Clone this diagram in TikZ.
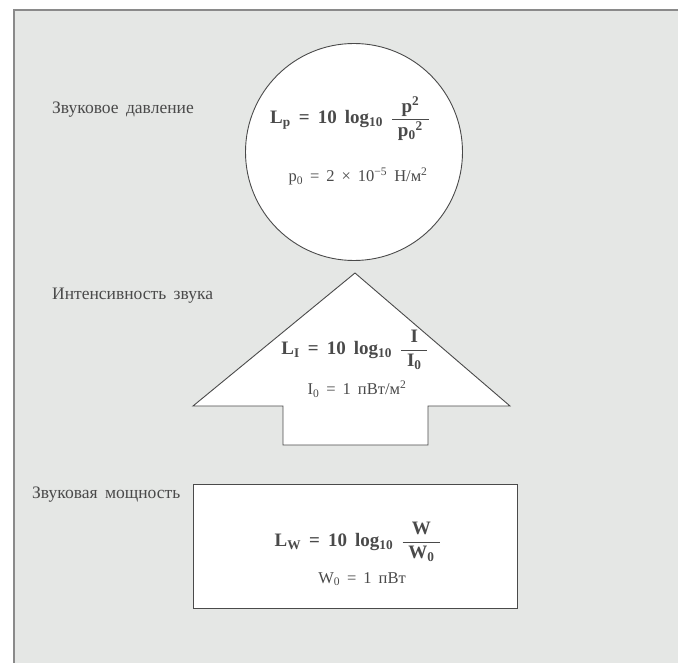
\documentclass[tikz,border=0pt]{standalone}
\usepackage{amsmath}
\usepackage{fontspec}
\setmainfont{Liberation Serif}[WordSpace=1.7]
\usetikzlibrary{calc}

\definecolor{panel}{HTML}{E5E7E5}
\definecolor{ink}{HTML}{4A4A4A}
\definecolor{frame}{HTML}{8A8A8A}

\newcommand{\bigf}{\fontsize{19}{22}\selectfont\bfseries}
\newcommand{\smallf}{\fontsize{16.5}{19}\selectfont}
\newcommand{\ratio}[2]{$\dfrac{\mkern6mu\text{\bigf #1}\mkern6mu}{\mkern6mu\text{\bigf #2}\mkern6mu}$}

\tikzset{
  lbl/.style={anchor=base west,inner sep=0pt,text=ink,font=\fontsize{17.5}{20}\selectfont},
  formula/.style={inner sep=0pt,text=ink,font=\bigf},
  note/.style={anchor=base,inner sep=0pt,text=ink,font=\smallf},
  outline/.style={draw=ink,line width=0.9pt,fill=white}
}

\begin{document}
\begin{tikzpicture}[x=1pt,y=-1pt]
\useasboundingbox (0,0) rectangle (678,663);
\fill[white] (0,0) rectangle (678,663);
\fill[panel] (14,10) rectangle (678,663);
\draw[frame,line width=1.6pt] (14,663) -- (14,10) -- (678,10);

% pressure
\node[outline,circle,minimum size=217pt] (disc) at (354,152) {};
\node[lbl] (presslbl) at (52,114) {Звуковое давление};
\node[formula] (pressf) at (350,119)
  {L\textsubscript{p} = 10 log\textsubscript{10} \ratio{p\textsuperscript{2}}{p\textsubscript{0}\textsuperscript{2}}};
\node[note] (pressref) at (358,182) {p\textsubscript{0} = 2 × 10\textsuperscript{−5} Н/м\textsuperscript{2}};

% intensity
\coordinate (apex) at (355,273);
\coordinate (tipL) at (193,406);
\coordinate (tipR) at (510,406);
\coordinate (stemL) at (283,406);
\coordinate (stemR) at (428,406);
\draw[outline,line join=miter] (apex) -- (tipR) -- (stemR) -- (stemR |- 0,445)
  -- (stemL |- 0,445) -- (stemL) -- (tipL) -- cycle;
\node[lbl] (intlbl) at (52,300) {Интенсивность звука};
\node[formula] (intf) at (355,350)
  {L\textsubscript{I} = 10 log\textsubscript{10} \ratio{I}{I\textsubscript{0}}};
\node[note] (intref) at (357,395) {I\textsubscript{0} = 1 пВт/м\textsuperscript{2}};

% power
\node[outline,minimum width=324pt,minimum height=124pt] (box) at (355,546) {};
\node[lbl] (powlbl) at (32,498) {Звуковая мощность};
\node[formula] (powf) at (358,542)
  {L\textsubscript{W} = 10 log\textsubscript{10} \ratio{W}{W\textsubscript{0}}};
\node[note] (powref) at (362,583) {W\textsubscript{0} = 1 пВт};
\end{tikzpicture}
\end{document}
